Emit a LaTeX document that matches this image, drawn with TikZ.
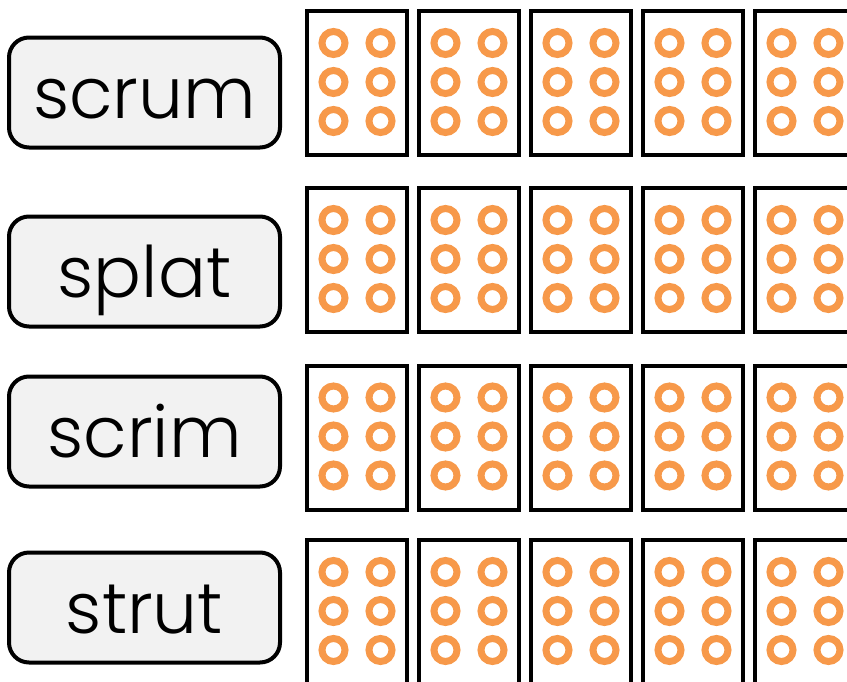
\documentclass[tikz,border=0pt]{standalone}
\usepackage{fontspec}
\setmainfont{Poppins Light}
\usepackage{tikz}
\usetikzlibrary{positioning,calc}
\definecolor{dotorange}{HTML}{F7994A}
\definecolor{boxgray}{HTML}{F2F2F2}

\begin{document}
\begin{tikzpicture}[x=1pt, y=-1pt,
    word/.style={draw, line width=4pt, rounded corners=20pt, fill=boxgray,
                 minimum width=271pt, minimum height=110pt, inner sep=0pt,
                 text height=51pt, text depth=0pt,
                 font=\fontsize{71}{84}\selectfont},
    card/.style={draw, line width=4pt, fill=white,
                 minimum width=100pt, minimum height=144pt, inner sep=0pt},
    dot/.style={draw=dotorange, line width=7pt}
]
\useasboundingbox (0,0) rectangle (847,681);

% --- rows: label, label y, card y ---
\foreach \lbl/\ly/\cy [count=\r] in {scrum/92.5/83, splat/271.5/260,
                                     scrim/431.5/437.5, strut/607.5/612} {
  \node[word] (w\r) at (144.5,\ly) {\lbl};
  % --- cards ---
  \foreach \c in {0,...,4} {
    \node[card] (c\r-\c) at (357+112*\c,\cy) {};
    \foreach \dx in {-23.5,23.5}
      \foreach \dy in {-40,-1,38}
        \draw[dot] ($(c\r-\c.center)+(\dx,\dy)$) circle[radius=11.5pt];
  }
}

\end{tikzpicture}
\end{document}
